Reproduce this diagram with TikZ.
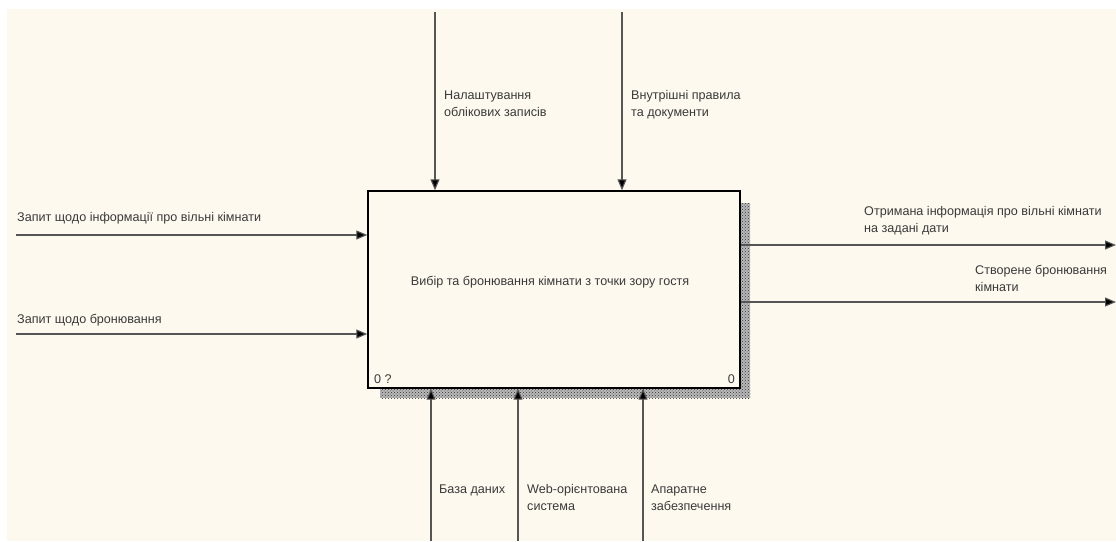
\documentclass[tikz,border=0pt]{standalone}
\usepackage{fontspec}
\setmainfont{Liberation Sans}
\usetikzlibrary{arrows.meta,patterns}
\definecolor{paper}{HTML}{FEF9EF}
\definecolor{ink}{HTML}{3A3A3A}
\definecolor{wire}{HTML}{555555}
\begin{document}
\begin{tikzpicture}[x=1pt,y=-1pt,
  lbl/.style={font=\fontsize{12.6}{17}\selectfont, text=ink, anchor=base west,
    inner sep=0pt, align=left},
  flow/.style={draw=wire, line width=1.1pt,
    -{Triangle[length=11pt,width=9pt,fill=black]}},
  shadow/.style={fill=gray!55, postaction={pattern=crosshatch dots, pattern color=gray!40!black}},
  procbox/.style={draw=black, line width=1.4pt, fill=paper, minimum width=372pt,
    minimum height=197pt, inner sep=0pt}]
  \useasboundingbox (0,0) rectangle (1116,541);
  \fill[white] (0,0) rectangle (1116,541);
  \fill[paper] (7,9) rectangle (1116,541);

  % drop shadow of the activity box
  \fill[shadow] (380,388) rectangle (750,398);
  \fill[shadow] (740,203) rectangle (750,398);

  \node[procbox] (proc) at (554,289.5) {};
  \node[font=\fontsize{12.6}{17}\selectfont, text=ink, anchor=base] (title) at (550,285)
    {Вибір та бронювання кімнати з точки зору гостя};
  \node[lbl] (num) at (374,383) {0 ?};
  \node[lbl, anchor=base east] (nodeno) at (735,383) {0};

  % controls (base of each label is its last line)
  \coordinate (c1) at (435,12);
  \coordinate (c2) at (622,12);
  \draw[flow] (c1) -- (c1 |- proc.north);
  \draw[flow] (c2) -- (c2 |- proc.north);
  \node[lbl] (lc1) at (444,116) {Налаштування\\облікових записів};
  \node[lbl] (lc2) at (631,116) {Внутрішні правила\\та документи};

  % inputs
  \coordinate (i1) at (16,235);
  \coordinate (i2) at (16,334);
  \draw[flow] (i1) -- (i1 -| proc.west);
  \draw[flow] (i2) -- (i2 -| proc.west);
  \node[lbl] (li1) at (17,221) {Запит щодо інформації про вільні кімнати};
  \node[lbl] (li2) at (17,323) {Запит щодо бронювання};

  % outputs
  \coordinate (o1) at (1116,245);
  \coordinate (o2) at (1116,302);
  \draw[flow] (o1 -| proc.east) -- (o1);
  \draw[flow] (o2 -| proc.east) -- (o2);
  \node[lbl] (lo1) at (864,232) {Отримана інформація про вільні кімнати\\на задані дати};
  \node[lbl] (lo2) at (975,291) {Створене бронювання\\кімнати};

  % mechanisms
  \coordinate (m1) at (431,541);
  \coordinate (m2) at (518,541);
  \coordinate (m3) at (643,541);
  \draw[flow] (m1) -- (m1 |- proc.south);
  \draw[flow] (m2) -- (m2 |- proc.south);
  \draw[flow] (m3) -- (m3 |- proc.south);
  \node[lbl] (lm1) at (439,493) {База даних};
  \node[lbl] (lm2) at (527,510) {Web-орієнтована\\система};
  \node[lbl] (lm3) at (651,510) {Апаратне\\забезпечення};
\end{tikzpicture}
\end{document}
